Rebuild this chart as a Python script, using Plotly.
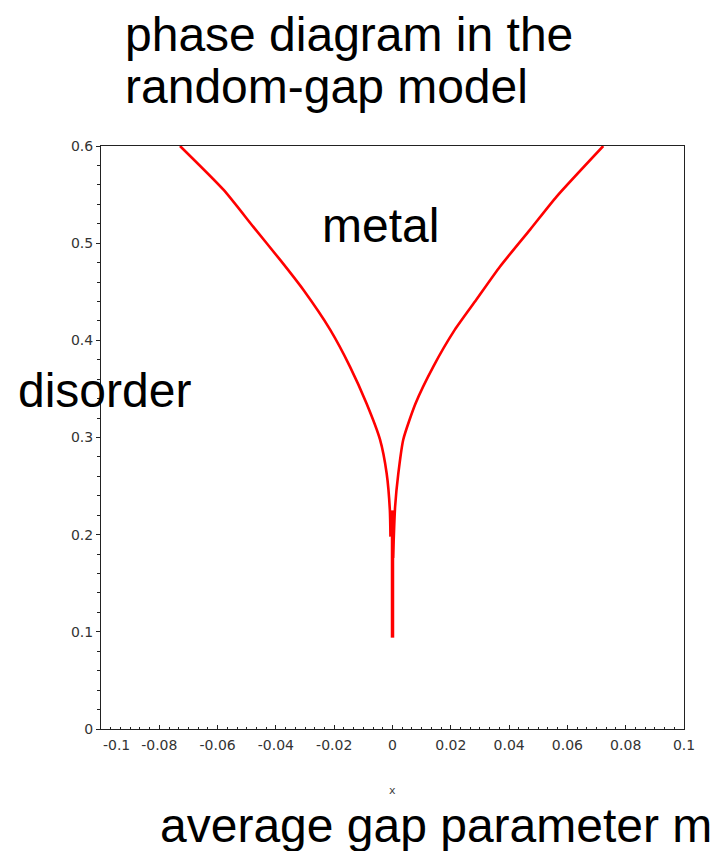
import plotly.graph_objects as go

# phase boundary, left branch (m < 0)
left_x = [-0.0729, -0.0580, -0.0478, -0.0386, -0.0306, -0.0214, -0.0146,
          -0.0089, -0.0043, -0.0020, -0.0009, -0.0007]
left_y = [0.600, 0.555, 0.517, 0.483, 0.452, 0.411, 0.373,
          0.335, 0.298, 0.263, 0.225, 0.198]
# right branch (m > 0)
right_x = [0.0723, 0.0563, 0.0472, 0.0369, 0.0288, 0.0214, 0.0140,
           0.0079, 0.0037, 0.0020, 0.0009, 0.0002]
right_y = [0.600, 0.548, 0.514, 0.476, 0.442, 0.411, 0.373,
           0.335, 0.298, 0.263, 0.229, 0.176]
# vertical stem at m = 0
stem_x = [0.0, 0.0]
stem_y = [0.225, 0.094]

NB = "\u00a0"
x_ticks = [-0.1, -0.08, -0.06, -0.04, -0.02, 0, 0.02, 0.04, 0.06, 0.08, 0.1]
x_ticktext = [NB * 7 + "-0.1", "-0.08", "-0.06", "-0.04", "-0.02", "0",
              "0.02", "0.04", "0.06", "0.08", "0.1"]
y_ticks = [0, 0.1, 0.2, 0.3, 0.4, 0.5, 0.6]
y_ticktext = ["0", "0.1", "0.2", "0.3", "0.4", "0.5", "0.6"]

RED = "#ff0000"
fig = go.Figure()
fig.add_trace(go.Scatter(x=left_x, y=left_y, mode="lines",
                         line=dict(color=RED, width=2.6, shape="spline", smoothing=0.6),
                         showlegend=False, hoverinfo="skip"))
fig.add_trace(go.Scatter(x=right_x, y=right_y, mode="lines",
                         line=dict(color=RED, width=2.6, shape="spline", smoothing=0.6),
                         showlegend=False, hoverinfo="skip"))
fig.add_trace(go.Scatter(x=stem_x, y=stem_y, mode="lines",
                         line=dict(color=RED, width=3.5),
                         showlegend=False, hoverinfo="skip"))

W, H = 712, 851
L, R, T, B = 101, 28, 146, 122
pw, ph = W - L - R, H - T - B


def px(xp):
    return (xp - L) / pw


def py(yp):
    return (H - B - yp) / ph


big = dict(family="Liberation Sans, Arial, sans-serif", size=48, color="#000000")
ann = [
    dict(text="phase diagram in the", x=px(123), y=py(35), xanchor="left", yanchor="middle"),
    dict(text="random-gap model", x=px(123), y=py(86), xanchor="left", yanchor="middle"),
    dict(text="metal", x=px(320), y=py(225), xanchor="left", yanchor="middle"),
    dict(text="disorder", x=px(16), y=py(390), xanchor="left", yanchor="middle"),
    dict(text="average gap parameter m", x=px(158), y=py(825), xanchor="left", yanchor="middle"),
]
annotations = [dict(a, xref="paper", yref="paper", showarrow=False, font=big) for a in ann]
annotations.append(dict(text="x", x=px(392), y=py(790), xref="paper", yref="paper",
                        xanchor="center", yanchor="middle", showarrow=False,
                        font=dict(family="DejaVu Sans", size=11, color="#444444")))

tickfont = dict(family="DejaVu Sans, sans-serif", size=14, color="#333333")

fig.update_layout(
    width=W, height=H,
    margin=dict(l=L, r=R, t=T, b=B, pad=0),
    paper_bgcolor="white", plot_bgcolor="white",
    annotations=annotations,
    xaxis=dict(range=[-0.1, 0.1], tickvals=x_ticks, ticktext=x_ticktext,
               showgrid=False, zeroline=False, showline=True, linecolor="#222222",
               linewidth=1, mirror=True, ticks="inside", ticklen=4, tickcolor="#222222",
               tickfont=tickfont, ticklabelstandoff=3,
               minor=dict(dtick=0.02 / 6, tick0=0, ticks="inside", ticklen=2,
                          tickcolor="#222222", showgrid=False)),
    yaxis=dict(range=[0, 0.6], tickvals=y_ticks, ticktext=y_ticktext,
               showgrid=False, zeroline=False, showline=True, linecolor="#222222",
               linewidth=1, mirror=True, ticks="outside", ticklen=4, tickcolor="#222222",
               tickfont=tickfont,
               minor=dict(dtick=0.02, tick0=0, ticks="outside", ticklen=3,
                          tickcolor="#222222", showgrid=False)),
)

fig.write_html("out.html", config={"displayModeBar": False},
               post_script="document.body.style.margin='0';")
